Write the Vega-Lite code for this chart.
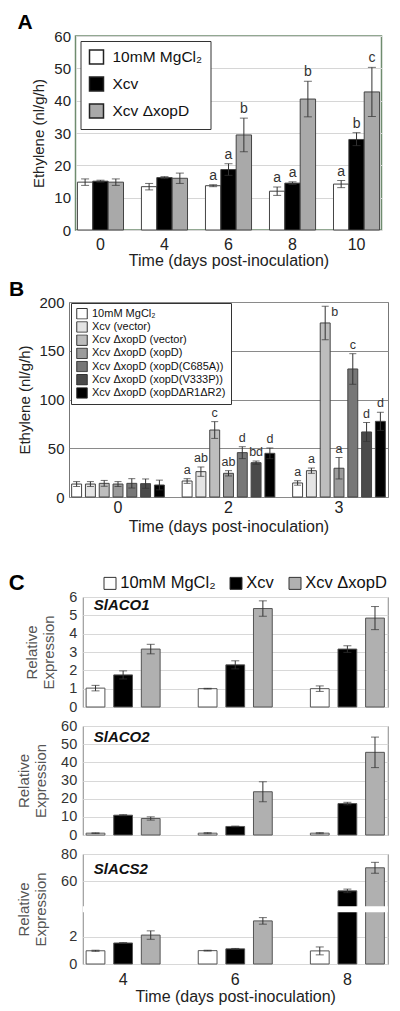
{
"$schema": "https://vega.github.io/schema/vega-lite/v6.json",
"padding": {"left": 8, "top": 11, "right": 0, "bottom": 0},
"config": {"font": "Liberation Sans", "axis": {"labelColor": "#222", "titleColor": "#222", "labelOverlap": false}, "legend": {"labelColor": "#111"}},
"datasets": {
"dA": [
{"t":"0","g":"10mM MgCl₂","v":14.8,"lo":13.8,"hi":15.8,"lab":""},
{"t":"0","g":"Xcv","v":15.1,"lo":14.8,"hi":15.4,"lab":""},
{"t":"0","g":"Xcv ΔxopD","v":14.8,"lo":13.8,"hi":15.8,"lab":""},
{"t":"4","g":"10mM MgCl₂","v":13.4,"lo":12.4,"hi":14.4,"lab":""},
{"t":"4","g":"Xcv","v":16.2,"lo":15.9,"hi":16.5,"lab":""},
{"t":"4","g":"Xcv ΔxopD","v":16.0,"lo":14.4,"hi":17.6,"lab":""},
{"t":"6","g":"10mM MgCl₂","v":13.7,"lo":13.4,"hi":14.0,"lab":"a"},
{"t":"6","g":"Xcv","v":18.7,"lo":16.9,"hi":20.5,"lab":"a"},
{"t":"6","g":"Xcv ΔxopD","v":29.4,"lo":24.2,"hi":34.6,"lab":"b"},
{"t":"8","g":"10mM MgCl₂","v":12.0,"lo":10.7,"hi":13.3,"lab":"a"},
{"t":"8","g":"Xcv","v":14.5,"lo":14.1,"hi":14.9,"lab":"a"},
{"t":"8","g":"Xcv ΔxopD","v":40.5,"lo":35.0,"hi":46.0,"lab":"b"},
{"t":"10","g":"10mM MgCl₂","v":14.2,"lo":13.1,"hi":15.3,"lab":"a"},
{"t":"10","g":"Xcv","v":28.0,"lo":26.1,"hi":30.1,"lab":"b"},
{"t":"10","g":"Xcv ΔxopD","v":42.7,"lo":35.1,"hi":50.3,"lab":"c"}
],
"dB": [
{"t":"0","g":"10mM MgCl₂","v":13.3,"lo":10.8,"hi":15.8,"lab":"","side":""},
{"t":"0","g":"Xcv (vector)","v":13.3,"lo":10.8,"hi":15.8,"lab":"","side":""},
{"t":"0","g":"Xcv ΔxopD (vector)","v":14.0,"lo":11.0,"hi":17.0,"lab":"","side":""},
{"t":"0","g":"Xcv ΔxopD (xopD)","v":13.3,"lo":10.8,"hi":15.8,"lab":"","side":""},
{"t":"0","g":"Xcv ΔxopD (xopD(C685A))","v":14.0,"lo":9.2,"hi":18.8,"lab":"","side":""},
{"t":"0","g":"Xcv ΔxopD (xopD(V333P))","v":13.7,"lo":8.9,"hi":18.5,"lab":"","side":""},
{"t":"0","g":"Xcv ΔxopD (xopDΔR1ΔR2)","v":12.3,"lo":7.3,"hi":17.3,"lab":"","side":""},
{"t":"2","g":"10mM MgCl₂","v":16.4,"lo":14.0,"hi":18.8,"lab":"a","side":""},
{"t":"2","g":"Xcv (vector)","v":26.0,"lo":21.2,"hi":30.8,"lab":"ab","side":""},
{"t":"2","g":"Xcv ΔxopD (vector)","v":68.7,"lo":60.1,"hi":77.3,"lab":"c","side":""},
{"t":"2","g":"Xcv ΔxopD (xopD)","v":24.3,"lo":21.6,"hi":27.0,"lab":"ab","side":""},
{"t":"2","g":"Xcv ΔxopD (xopD(C685A))","v":45.5,"lo":39.4,"hi":51.6,"lab":"d","side":""},
{"t":"2","g":"Xcv ΔxopD (xopD(V333P))","v":35.2,"lo":33.5,"hi":36.9,"lab":"bd","side":""},
{"t":"2","g":"Xcv ΔxopD (xopDΔR1ΔR2)","v":44.8,"lo":39.3,"hi":50.3,"lab":"d","side":""},
{"t":"3","g":"10mM MgCl₂","v":14.4,"lo":12.1,"hi":16.7,"lab":"a","side":""},
{"t":"3","g":"Xcv (vector)","v":27.0,"lo":24.3,"hi":29.7,"lab":"a","side":""},
{"t":"3","g":"Xcv ΔxopD (vector)","v":178.5,"lo":161.4,"hi":195.6,"lab":"","side":"b"},
{"t":"3","g":"Xcv ΔxopD (xopD)","v":29.5,"lo":18.5,"hi":40.5,"lab":"a","side":""},
{"t":"3","g":"Xcv ΔxopD (xopD(C685A))","v":131.3,"lo":115.6,"hi":147.0,"lab":"c","side":""},
{"t":"3","g":"Xcv ΔxopD (xopD(V333P))","v":66.7,"lo":57.0,"hi":76.4,"lab":"d","side":""},
{"t":"3","g":"Xcv ΔxopD (xopDΔR1ΔR2)","v":77.6,"lo":68.3,"hi":86.9,"lab":"d","side":""}
],
"dC": [
{"gene":"SlACO1","t":"4","g":"10mM MgCl₂","v":1.03,"lo":0.88,"hi":1.18},
{"gene":"SlACO1","t":"4","g":"Xcv","v":1.75,"lo":1.53,"hi":1.97},
{"gene":"SlACO1","t":"4","g":"Xcv ΔxopD","v":3.16,"lo":2.9,"hi":3.42},
{"gene":"SlACO1","t":"6","g":"10mM MgCl₂","v":1.0,"lo":0.98,"hi":1.02},
{"gene":"SlACO1","t":"6","g":"Xcv","v":2.3,"lo":2.08,"hi":2.52},
{"gene":"SlACO1","t":"6","g":"Xcv ΔxopD","v":5.37,"lo":4.95,"hi":5.79},
{"gene":"SlACO1","t":"8","g":"10mM MgCl₂","v":1.0,"lo":0.85,"hi":1.15},
{"gene":"SlACO1","t":"8","g":"Xcv","v":3.16,"lo":2.98,"hi":3.34},
{"gene":"SlACO1","t":"8","g":"Xcv ΔxopD","v":4.85,"lo":4.22,"hi":5.48},
{"gene":"SlACO2","t":"4","g":"10mM MgCl₂","v":1.0,"lo":0.8,"hi":1.2},
{"gene":"SlACO2","t":"4","g":"Xcv","v":10.9,"lo":10.6,"hi":11.2},
{"gene":"SlACO2","t":"4","g":"Xcv ΔxopD","v":9.1,"lo":8.2,"hi":10.0},
{"gene":"SlACO2","t":"6","g":"10mM MgCl₂","v":1.0,"lo":0.7,"hi":1.3},
{"gene":"SlACO2","t":"6","g":"Xcv","v":4.7,"lo":4.5,"hi":4.9},
{"gene":"SlACO2","t":"6","g":"Xcv ΔxopD","v":23.8,"lo":18.3,"hi":29.3},
{"gene":"SlACO2","t":"8","g":"10mM MgCl₂","v":1.0,"lo":0.7,"hi":1.3},
{"gene":"SlACO2","t":"8","g":"Xcv","v":17.3,"lo":16.6,"hi":18.0},
{"gene":"SlACO2","t":"8","g":"Xcv ΔxopD","v":45.5,"lo":37.1,"hi":53.9},
{"gene":"SlACS2","t":"4","g":"10mM MgCl₂","v":0.97,"lo":0.93,"hi":1.01},
{"gene":"SlACS2","t":"4","g":"Xcv","v":1.54,"lo":1.51,"hi":1.57},
{"gene":"SlACS2","t":"4","g":"Xcv ΔxopD","v":2.12,"lo":1.81,"hi":2.43},
{"gene":"SlACS2","t":"6","g":"10mM MgCl₂","v":0.98,"lo":0.95,"hi":1.01},
{"gene":"SlACS2","t":"6","g":"Xcv","v":1.11,"lo":1.08,"hi":1.14},
{"gene":"SlACS2","t":"6","g":"Xcv ΔxopD","v":3.16,"lo":2.92,"hi":3.4},
{"gene":"SlACS2","t":"8","g":"10mM MgCl₂","v":0.96,"lo":0.67,"hi":1.25},
{"gene":"SlACS2","t":"8","g":"Xcv","v":53.0,"lo":51.7,"hi":54.3},
{"gene":"SlACS2","t":"8","g":"Xcv ΔxopD","v":69.9,"lo":65.9,"hi":73.9}
]
},
"concat": [
{
"concat": [
{
"hconcat": [
{
"width": 306, "height": 194,
"view": {"stroke": "#6f8c6f", "strokeWidth": 1.5},
"title": {"text": "A", "anchor": "start", "frame": "group", "dx": -58, "offset": -4, "fontSize": 21, "fontWeight": "bold", "color": "#000"},
"data": {"name": "dA"},
"encoding": {
"x": {"field": "t", "type": "ordinal", "sort": ["0","4","6","8","10"], "scale": {"paddingInner": 0.28, "paddingOuter": 0.03}, "axis": {"title": "Time (days post-inoculation)", "labelAngle": 0, "domain": false, "ticks": false, "labelFontSize": 16, "labelPadding": 6, "titleFontSize": 16, "titleFontWeight": "normal", "titlePadding": 0}},
"xOffset": {"field": "g", "type": "nominal", "sort": ["10mM MgCl₂","Xcv","Xcv ΔxopD"], "scale": {"paddingInner": 0, "paddingOuter": 0}}
},
"layer": [
{"mark": {"type": "bar", "stroke": "#444", "strokeWidth": 1},
"encoding": {
"y": {"field": "v", "type": "quantitative", "scale": {"domain": [0,60], "nice": false}, "axis": {"title": "Ethylene (nl/g/h)", "values": [0,10,20,30,40,50,60], "format": "d", "tickCount": 20, "labelOverlap": false, "grid": true, "gridColor": "#d6d6d6", "domain": false, "ticks": false, "labelFontSize": 15, "labelPadding": 5, "titleFontSize": 15, "titleFontWeight": "normal", "titlePadding": 7}},
"color": {"field": "g", "type": "nominal", "sort": ["10mM MgCl₂","Xcv","Xcv ΔxopD"], "scale": {"domain": ["10mM MgCl₂","Xcv","Xcv ΔxopD"], "range": ["#ffffff","#000000","#a9a9a9"]},
"legend": {"orient": "none", "legendX": 5, "legendY": 5, "title": null, "padding": 8, "strokeColor": "#333", "fillColor": "#ffffff", "symbolType": "square", "symbolSize": 196, "symbolStrokeColor": "#222", "symbolStrokeWidth": 1.5, "labelFontSize": 15.5, "labelOffset": 8, "rowPadding": 7}}
}},
{"mark": {"type": "rule", "color": "#333", "strokeWidth": 1}, "encoding": {"y": {"field": "lo", "type": "quantitative", "title": "Ethylene (nl/g/h)"}, "y2": {"field": "hi"}}},
{"mark": {"type": "tick", "color": "#333", "size": 8, "thickness": 1}, "encoding": {"y": {"field": "lo", "type": "quantitative", "title": "Ethylene (nl/g/h)"}}},
{"mark": {"type": "tick", "color": "#333", "size": 8, "thickness": 1}, "encoding": {"y": {"field": "hi", "type": "quantitative", "title": "Ethylene (nl/g/h)"}}},
{"mark": {"type": "text", "baseline": "bottom", "dy": -2, "fontSize": 14, "color": "#333"}, "encoding": {"y": {"field": "hi", "type": "quantitative", "title": "Ethylene (nl/g/h)"}, "text": {"field": "lab"}}}
]
},
{"width": 1, "height": 1, "data": {"values": [{"k": 0}]}, "mark": {"type": "point", "opacity": 0, "size": 1, "filled": true}, "view": {"stroke": null}}
],
"spacing": 12
},
{
"hconcat": [
{
"width": 319, "height": 195,
"view": {"stroke": "#777", "strokeWidth": 1},
"title": {"text": "B", "anchor": "start", "frame": "group", "dx": -60, "offset": -9, "fontSize": 21, "fontWeight": "bold", "color": "#000"},
"data": {"name": "dB"},
"encoding": {
"x": {"field": "t", "type": "ordinal", "sort": ["0","2","3"], "scale": {"paddingInner": 0.161, "paddingOuter": 0.024}, "axis": {"title": "Time (days post-inoculation)", "labelAngle": 0, "domain": false, "ticks": false, "labelFontSize": 16, "labelPadding": 2, "titleFontSize": 16, "titleFontWeight": "normal", "titlePadding": 3}},
"xOffset": {"field": "g", "type": "nominal", "sort": ["10mM MgCl₂","Xcv (vector)","Xcv ΔxopD (vector)","Xcv ΔxopD (xopD)","Xcv ΔxopD (xopD(C685A))","Xcv ΔxopD (xopD(V333P))","Xcv ΔxopD (xopDΔR1ΔR2)"], "scale": {"paddingInner": 0.28, "paddingOuter": 0}}
},
"layer": [
{"mark": {"type": "bar", "stroke": "#444", "strokeWidth": 1},
"encoding": {
"y": {"field": "v", "type": "quantitative", "scale": {"domain": [0,200], "nice": false}, "axis": {"title": "Ethylene (nl/g/h)", "values": [0,50,100,150,200], "format": "d", "tickCount": 20, "labelOverlap": false, "grid": true, "gridColor": "#8a8a8a", "domain": false, "ticks": false, "labelFontSize": 15, "labelPadding": 5, "titleFontSize": 15, "titleFontWeight": "normal", "titlePadding": 6}},
"color": {"field": "g", "type": "nominal", "sort": ["10mM MgCl₂","Xcv (vector)","Xcv ΔxopD (vector)","Xcv ΔxopD (xopD)","Xcv ΔxopD (xopD(C685A))","Xcv ΔxopD (xopD(V333P))","Xcv ΔxopD (xopDΔR1ΔR2)"], "scale": {"domain": ["10mM MgCl₂","Xcv (vector)","Xcv ΔxopD (vector)","Xcv ΔxopD (xopD)","Xcv ΔxopD (xopD(C685A))","Xcv ΔxopD (xopD(V333P))","Xcv ΔxopD (xopDΔR1ΔR2)"], "range": ["#ffffff","#e4e4e4","#bdbdbd","#9c9c9c","#777777","#4a4a4a","#000000"]},
"legend": {"orient": "none", "legendX": 2, "legendY": 1, "title": null, "padding": 5, "strokeColor": "#333", "fillColor": "#ffffff", "symbolType": "square", "symbolSize": 110, "symbolStrokeColor": "#333", "symbolStrokeWidth": 1, "labelFontSize": 11, "labelOffset": 4, "rowPadding": 0.2, "clipHeight": 11.5}}
}},
{"mark": {"type": "rule", "color": "#333", "strokeWidth": 1}, "encoding": {"y": {"field": "lo", "type": "quantitative", "title": "Ethylene (nl/g/h)"}, "y2": {"field": "hi"}}},
{"mark": {"type": "tick", "color": "#333", "size": 7, "thickness": 1}, "encoding": {"y": {"field": "lo", "type": "quantitative", "title": "Ethylene (nl/g/h)"}}},
{"mark": {"type": "tick", "color": "#333", "size": 7, "thickness": 1}, "encoding": {"y": {"field": "hi", "type": "quantitative", "title": "Ethylene (nl/g/h)"}}},
{"mark": {"type": "text", "baseline": "bottom", "dy": -2, "fontSize": 12.5, "color": "#333"}, "encoding": {"y": {"field": "hi", "type": "quantitative", "title": "Ethylene (nl/g/h)"}, "text": {"field": "lab"}}},
{"mark": {"type": "text", "baseline": "top", "align": "left", "dx": 6, "dy": 0, "fontSize": 12.5, "color": "#333"}, "encoding": {"y": {"field": "hi", "type": "quantitative", "title": "Ethylene (nl/g/h)"}, "text": {"field": "side"}}}
]
},
{"width": 1, "height": 1, "data": {"values": [{"k": 0}]}, "mark": {"type": "point", "opacity": 0, "size": 1, "filled": true}, "view": {"stroke": null}}
],
"spacing": 12
}
],
"columns": 1, "align": "each", "center": true, "spacing": 9,
"resolve": {"scale": {"color": "independent", "xOffset": "independent", "x": "independent", "y": "independent"}}
},
{
"vconcat": [
{
"width": 305, "height": 110,
"view": {"stroke": "#888", "strokeWidth": 1},
"title": {"text": "SlACO1", "anchor": "start", "frame": "group", "dx": 11, "offset": -38, "fontSize": 15, "fontWeight": "bold", "fontStyle": "italic", "color": "#111"},
"data": {"name": "dC"},
"transform": [{"filter": "datum.gene === 'SlACO1'"}],
"encoding": {
"x": {"field": "t", "type": "ordinal", "sort": ["4","6","8"], "scale": {"paddingInner": 0.34, "paddingOuter": 0.03}, "axis": null},
"xOffset": {"field": "g", "type": "nominal", "sort": ["10mM MgCl₂","Xcv","Xcv ΔxopD"], "scale": {"paddingInner": 0.32, "paddingOuter": 0}}
},
"layer": [
{"mark": {"type": "bar", "stroke": "#555", "strokeWidth": 1},
"encoding": {
"y": {"field": "v", "type": "quantitative", "scale": {"domain": [0,6], "nice": false}, "axis": {"title": ["Relative", "Expression"], "values": [0,1,2,3,4,5,6], "format": "d", "tickCount": 20, "labelOverlap": false, "grid": true, "gridColor": "#d8d8d8", "domain": false, "ticks": false, "labelFontSize": 14.5, "labelPadding": 6, "labelColor": "#333", "titleFontSize": 15, "titleFontWeight": "normal", "titleColor": "#555", "titlePadding": 12}},
"color": {"field": "g", "type": "nominal", "sort": ["10mM MgCl₂","Xcv","Xcv ΔxopD"], "scale": {"domain": ["10mM MgCl₂","Xcv","Xcv ΔxopD"], "range": ["#ffffff","#000000","#b0b0b0"]},
"legend": {"orient": "none", "legendX": -74, "legendY": -22, "direction": "horizontal", "title": "C", "titleOrient": "left", "titleFontSize": 22, "titleFontWeight": "bold", "titleColor": "#000", "titlePadding": 77, "padding": 0, "symbolType": "square", "symbolSize": 144, "symbolStrokeColor": "#333", "symbolStrokeWidth": 1, "labelFontSize": 16.5, "labelOffset": 2, "columnPadding": 12}}
}},
{"mark": {"type": "rule", "color": "#333", "strokeWidth": 1}, "encoding": {"y": {"field": "lo", "type": "quantitative", "title": ["Relative", "Expression"]}, "y2": {"field": "hi"}}},
{"mark": {"type": "tick", "color": "#333", "size": 8, "thickness": 1}, "encoding": {"y": {"field": "lo", "type": "quantitative", "title": ["Relative", "Expression"]}}},
{"mark": {"type": "tick", "color": "#333", "size": 8, "thickness": 1}, "encoding": {"y": {"field": "hi", "type": "quantitative", "title": ["Relative", "Expression"]}}}
]
},
{
"width": 305, "height": 109,
"view": {"stroke": "#888", "strokeWidth": 1},
"title": {"text": "SlACO2", "anchor": "start", "frame": "group", "dx": 11, "offset": -27, "fontSize": 15, "fontWeight": "bold", "fontStyle": "italic", "color": "#111"},
"data": {"name": "dC"},
"transform": [{"filter": "datum.gene === 'SlACO2'"}],
"encoding": {
"x": {"field": "t", "type": "ordinal", "sort": ["4","6","8"], "scale": {"paddingInner": 0.34, "paddingOuter": 0.03}, "axis": null},
"xOffset": {"field": "g", "type": "nominal", "sort": ["10mM MgCl₂","Xcv","Xcv ΔxopD"], "scale": {"paddingInner": 0.32, "paddingOuter": 0}}
},
"layer": [
{"mark": {"type": "bar", "stroke": "#555", "strokeWidth": 1},
"encoding": {
"y": {"field": "v", "type": "quantitative", "scale": {"domain": [0,60], "nice": false}, "axis": {"title": ["Relative", "Expression"], "values": [0,10,20,30,40,50,60], "format": "d", "tickCount": 20, "labelOverlap": false, "grid": true, "gridColor": "#d8d8d8", "domain": false, "ticks": false, "labelFontSize": 14.5, "labelPadding": 6, "labelColor": "#333", "titleFontSize": 15, "titleFontWeight": "normal", "titleColor": "#555", "titlePadding": 12}},
"color": {"field": "g", "type": "nominal", "scale": {"domain": ["10mM MgCl₂","Xcv","Xcv ΔxopD"], "range": ["#ffffff","#000000","#b0b0b0"]}, "legend": null}
}},
{"mark": {"type": "rule", "color": "#333", "strokeWidth": 1}, "encoding": {"y": {"field": "lo", "type": "quantitative", "title": ["Relative", "Expression"]}, "y2": {"field": "hi"}}},
{"mark": {"type": "tick", "color": "#333", "size": 8, "thickness": 1}, "encoding": {"y": {"field": "lo", "type": "quantitative", "title": ["Relative", "Expression"]}}},
{"mark": {"type": "tick", "color": "#333", "size": 8, "thickness": 1}, "encoding": {"y": {"field": "hi", "type": "quantitative", "title": ["Relative", "Expression"]}}}
]
},
{
"width": 305, "height": 110,
"view": {"stroke": "#888", "strokeWidth": 1},
"title": {"text": "SlACS2", "anchor": "start", "frame": "group", "dx": 11, "offset": -31, "fontSize": 15, "fontWeight": "bold", "fontStyle": "italic", "color": "#111"},
"layer": [
{
"data": {"name": "dC"},
"transform": [{"filter": "datum.gene === 'SlACS2'"}],
"encoding": {
"x": {"field": "t", "type": "ordinal", "sort": ["4","6","8"], "scale": {"paddingInner": 0.34, "paddingOuter": 0.03}, "axis": {"title": "Time (days post-inoculation)", "labelAngle": 0, "domain": false, "ticks": false, "labelFontSize": 16, "labelPadding": 7, "titleFontSize": 16, "titleFontWeight": "normal", "titlePadding": 1}},
"xOffset": {"field": "g", "type": "nominal", "sort": ["10mM MgCl₂","Xcv","Xcv ΔxopD"], "scale": {"paddingInner": 0.32, "paddingOuter": 0}}
},
"layer": [
{"mark": {"type": "bar", "stroke": "#555", "strokeWidth": 1},
"encoding": {
"y": {"field": "v", "type": "quantitative", "scale": {"domain": [0, 3.79, 41.7, 80], "range": [110, 58.3, 52.3, 0], "nice": false, "zero": false}, "axis": {"title": ["Relative", "Expression"], "values": [0,2,60,80], "format": "d", "tickCount": 20, "labelOverlap": false, "grid": true, "gridColor": "#d8d8d8", "domain": false, "ticks": false, "labelFontSize": 14.5, "labelPadding": 6, "labelColor": "#333", "titleFontSize": 15, "titleFontWeight": "normal", "titleColor": "#555", "titlePadding": 12}},
"color": {"field": "g", "type": "nominal", "scale": {"domain": ["10mM MgCl₂","Xcv","Xcv ΔxopD"], "range": ["#ffffff","#000000","#b0b0b0"]}, "legend": null}
}},
{"mark": {"type": "rule", "color": "#333", "strokeWidth": 1}, "encoding": {"y": {"field": "lo", "type": "quantitative", "title": ["Relative", "Expression"]}, "y2": {"field": "hi"}}},
{"mark": {"type": "tick", "color": "#333", "size": 8, "thickness": 1}, "encoding": {"y": {"field": "lo", "type": "quantitative", "title": ["Relative", "Expression"]}}},
{"mark": {"type": "tick", "color": "#333", "size": 8, "thickness": 1}, "encoding": {"y": {"field": "hi", "type": "quantitative", "title": ["Relative", "Expression"]}}}
]
},
{
"data": {"values": [{"lo": 3.79, "hi": 41.7}]},
"mark": {"type": "rect", "color": "#ffffff"},
"encoding": {"y": {"field": "lo", "type": "quantitative", "title": ["Relative", "Expression"]}, "y2": {"field": "hi"}}
}
]
}
],
"spacing": 3,
"resolve": {"scale": {"color": "independent", "xOffset": "independent", "x": "independent", "y": "independent"}}
}
],
"columns": 1, "align": "each", "center": true, "spacing": 39,
"resolve": {"scale": {"color": "independent", "xOffset": "independent", "x": "independent", "y": "independent"}}
}
